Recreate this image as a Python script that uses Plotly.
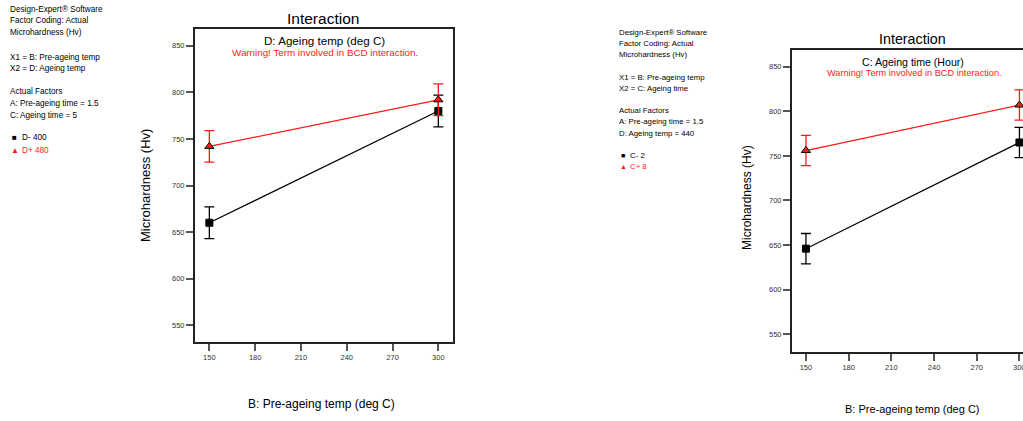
import plotly.graph_objects as go

W, H = 1023, 421

# ---- data ----
pre_ageing_temp = [150, 300]
x_ticks = [150, 180, 210, 240, 270, 300]
y_ticks = [550, 600, 650, 700, 750, 800, 850]

left_low_name = "D- 400"
left_high_name = "D+ 480"
left_low = [660, 780]
left_high = [742, 792]
left_low_err = [17, 17]
left_high_err = [17, 17]

right_low_name = "C- 2"
right_high_name = "C+ 8"
right_low = [646, 765]
right_high = [756, 807]
right_low_err = [17, 17]
right_high_err = [17, 17]

left_info = ["Design-Expert® Software", "Factor Coding: Actual", "Microhardness (Hv)",
             "X1 = B: Pre-ageing temp", "X2 = D: Ageing temp",
             "Actual Factors", "A: Pre-ageing time = 1.5", "C: Ageing time = 5"]
right_info = ["Design-Expert® Software", "Factor Coding: Actual", "Microhardness (Hv)",
              "X1 = B: Pre-ageing temp", "X2 = C: Ageing time",
              "Actual Factors", "A: Pre-ageing time = 1.5", "D: Ageing temp = 440"]

SANS = "Liberation Sans, Arial, sans-serif"
RED = "#ff1a1a"

fig = go.Figure()


def px(x):
    return x / W


def py(y):
    return 1 - y / H


def add_series(xa, ya, yvals, errs, color, symbol, msize, name):
    fig.add_trace(go.Scatter(
        x=pre_ageing_temp, y=yvals, xaxis=xa, yaxis=ya, mode="lines+markers",
        name=name, showlegend=False, cliponaxis=False,
        line=dict(color=color, width=1.2),
        marker=dict(symbol=symbol, size=msize, color=color,
                    line=dict(color="black", width=1)),
        error_y=dict(type="data", array=errs, visible=True, color=color,
                     thickness=1.3, width=5),
    ))


add_series("x", "y", left_low, left_low_err, "black", "square", 7, left_low_name)
add_series("x", "y", left_high, left_high_err, RED, "triangle-up", 8, left_high_name)
add_series("x2", "y2", right_low, right_low_err, "black", "square", 7, right_low_name)
add_series("x2", "y2", right_high, right_high_err, RED, "triangle-up", 8, right_high_name)

TICKFONT = dict(family=SANS, size=7.5, color="#333")
axis_common = dict(showgrid=False, zeroline=False, ticks="outside", ticklen=7,
                   tickwidth=1.5, tickcolor="#555", showline=True,
                   linecolor="#222", linewidth=2, tickfont=TICKFONT)

fig.update_layout(
    width=W, height=H, margin=dict(l=0, r=0, t=0, b=0),
    paper_bgcolor="white", plot_bgcolor="white",
    xaxis=dict(domain=[px(195), px(453)], range=[140.6, 309.6], tickvals=x_ticks,
               mirror=True, anchor="y", **axis_common),
    yaxis=dict(domain=[py(342), py(29)], range=[532, 868], tickvals=y_ticks,
               mirror=True, anchor="x", **axis_common),
    xaxis2=dict(domain=[px(792), 1.0], range=[140.2, 302.5], tickvals=x_ticks,
                mirror=True, anchor="y2", **axis_common),
    yaxis2=dict(domain=[py(351.7), py(50)], range=[530.5, 868.7], tickvals=y_ticks,
                mirror=False, anchor="x2", **axis_common),
)

ann = []


def text(x, y, s, size, family=SANS, color="black", xanchor="center", angle=0):
    ann.append(dict(x=px(x), y=py(y), xref="paper", yref="paper", text=s,
                    showarrow=False, xanchor=xanchor, yanchor="middle",
                    textangle=angle,
                    font=dict(family=family, size=size, color=color)))


# info blocks
left_y = [10, 21, 32.7, 57.3, 68.3, 91.7, 104, 115.7]
for s, yy in zip(left_info, left_y):
    text(8, yy, s, 8.2, xanchor="left")
text(9.5, 137.3, "■", 8, xanchor="left")
text(20, 137.3, left_low_name, 8.2, xanchor="left")
text(9, 150, "▲", 8, color=RED, xanchor="left")
text(20, 150, left_high_name, 8.2, color=RED, xanchor="left")

right_y = [32.3, 43.3, 54.3, 77.3, 88.3, 110.7, 121.7, 133.3]
for s, yy in zip(right_info, right_y):
    text(616.5, yy, s, 7.8, xanchor="left")
text(618.5, 155, "■", 7, xanchor="left")
text(627.5, 155, right_low_name, 7.8, xanchor="left")
text(618, 166.7, "▲", 7, color=RED, xanchor="left")
text(627.5, 166.7, right_high_name, 7.8, color=RED, xanchor="left")

# titles
text(323, 18, "Interaction", 15.5)
text(324, 41, "D: Ageing temp (deg C)", 11.6)
text(325, 53, "Warning! Term involved in BCD interaction.", 9.8, color=RED)
text(912, 39, "Interaction", 14.3)
text(913, 62, "C: Ageing time (Hour)", 10.6)
text(914.7, 72.7, "Warning! Term involved in BCD interaction.", 9.2, color=RED)

# axis titles
text(146, 186, "Microhardness (Hv)", 13, angle=-90)
text(747, 198, "Microhardness (Hv)", 12, angle=-90)
text(321.5, 404, "B: Pre-ageing temp (deg C)", 12)
text(912, 409, "B: Pre-ageing temp (deg C)", 11)

# last tick label of the right panel, cut by the page edge (hidden by plotly otherwise)
ann.append(dict(x=x_ticks[-1], xref="x2", y=py(367.5), yref="paper",
                text=str(x_ticks[-1]), showarrow=False, xanchor="center",
                yanchor="middle", font=TICKFONT))

fig.update_layout(annotations=ann)

fig.write_html("out.html")
